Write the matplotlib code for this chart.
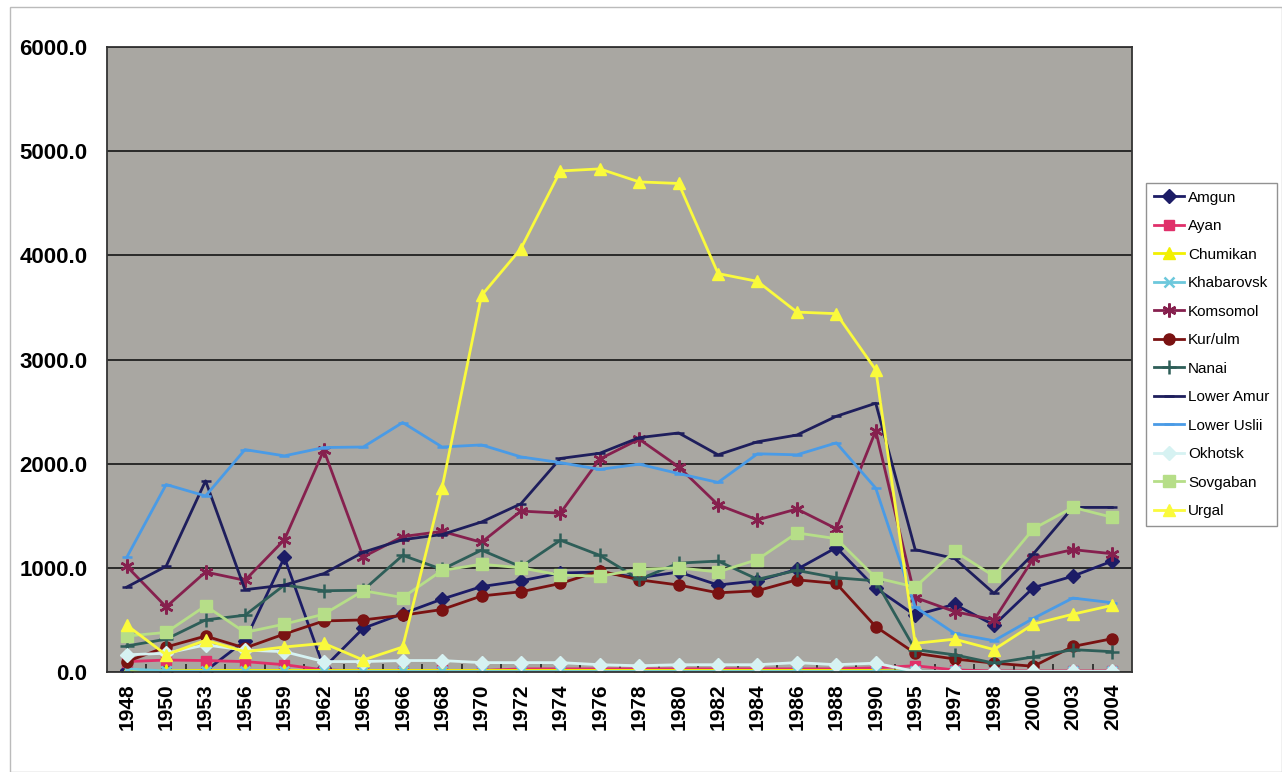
import matplotlib
matplotlib.use('Agg')
import matplotlib.pyplot as plt
from matplotlib.patches import Rectangle

plt.rcParams['font.family'] = ['Liberation Sans', 'DejaVu Sans']

# categories (years)
years = ['1948', '1950', '1953', '1956', '1959', '1962', '1965', '1966', '1968', '1970',
         '1972', '1974', '1976', '1978', '1980', '1982', '1984', '1986', '1988', '1990',
         '1995', '1997', '1998', '2000', '2003', '2004']

# series values
amgun = [20, 10, 10, 300, 1100, 40, 420, 560, 700, 820, 875, 950, 960, 905, 960, 835,
         875, 985, 1195, 805, 545, 650, 450, 810, 920, 1065]
ayan = [100, 115, 110, 100, 70, 20, 10, 10, 15, 15, 30, 30, 30, 30, 30, 30,
        30, 30, 30, 40, 60, 20, 10, 10, 10, 10]
chumikan = [10, 15, 15, 15, 15, 15, 15, 15, 15, 15, 15, 15, 15, 15, 15, 15,
            15, 15, 15, 15, 5, 5, 5, 5, 5, 5]
khabarovsk = [30, 10, 5, 5, 5, 5, 5, 5, 5, 5, 5, 5, 5, 5, 5, 5,
              5, 5, 5, 5, 5, 5, 5, 5, 5, 5]
komsomol = [1015, 625, 960, 880, 1270, 2130, 1105, 1300, 1350, 1245, 1545, 1525, 2045, 2235, 1970, 1605,
            1460, 1565, 1375, 2315, 715, 580, 500, 1090, 1175, 1135]
kurulm = [100, 240, 345, 230, 365, 490, 500, 545, 600, 730, 770, 850, 970, 885, 835, 760,
          780, 885, 850, 435, 180, 125, 85, 55, 245, 320]
nanai = [250, 315, 500, 545, 835, 780, 785, 1120, 985, 1170, 1010, 1265, 1120, 890, 1045, 1065,
         890, 975, 905, 875, 215, 165, 85, 145, 215, 195]
lower_amur = [815, 1015, 1835, 790, 835, 945, 1150, 1270, 1320, 1440, 1615, 2050, 2100, 2250, 2295, 2085,
              2210, 2275, 2455, 2580, 1175, 1090, 755, 1135, 1580, 1580]
lower_uslii = [1100, 1800, 1690, 2135, 2075, 2155, 2160, 2395, 2160, 2180, 2065, 2010, 1945, 1995, 1905, 1820,
               2095, 2085, 2200, 1765, 625, 370, 300, 515, 710, 665]
okhotsk = [165, 180, 260, 210, 195, 100, 100, 110, 110, 90, 90, 90, 70, 60, 70, 70,
           70, 90, 70, 85, 5, 5, 5, 5, 5, 5]
sovgaban = [345, 380, 635, 380, 460, 555, 780, 715, 975, 1035, 1000, 930, 920, 985, 1000, 960,
            1080, 1335, 1280, 905, 815, 1160, 920, 1375, 1580, 1485]
urgal = [450, 165, 305, 195, 240, 275, 115, 240, 1770, 3615, 4065, 4810, 4830, 4705, 4690, 3825,
         3750, 3455, 3440, 2900, 275, 315, 215, 460, 555, 640]

names = ['Amgun', 'Ayan', 'Chumikan', 'Khabarovsk', 'Komsomol', 'Kur/ulm', 'Nanai',
         'Lower Amur', 'Lower Uslii', 'Okhotsk', 'Sovgaban', 'Urgal']
data = [amgun, ayan, chumikan, khabarovsk, komsomol, kurulm, nanai,
        lower_amur, lower_uslii, okhotsk, sovgaban, urgal]
colors = ['#1c1c66', '#e0306a', '#f2f000', '#6cc8dc', '#86204e', '#7a1212', '#2e5e58',
          '#1e1e5c', '#4a9be6', '#d6f2f2', '#b6de88', '#fafa3c']
markers = ['D', 's', '^', 'x', (6, 2, 0), 'o', '+', '_', '_', 'D', 's', '^']
msizes = [7, 7, 8, 7, 10, 8, 10, 7, 7, 7, 8, 8]

fig = plt.figure(figsize=(12.82, 7.72), dpi=100)
ax = fig.add_axes([107 / 1282, 1 - 672 / 772, (1132 - 107) / 1282, (672 - 47) / 772])
ax.set_facecolor('#a9a7a2')

x = list(range(len(years)))
for vals, name, c, m, ms in zip(data, names, colors, markers, msizes):
    ax.plot(x, vals, color=c, marker=m, markersize=ms, linewidth=2, label=name,
            markeredgewidth=1.8 if m in ('x', '+', '_', (6, 2, 0)) else 1,
            markeredgecolor=c, markerfacecolor=c)

ax.set_xlim(-0.5, len(years) - 0.5)
ax.set_ylim(0, 6000)
ax.set_yticks([0, 1000, 2000, 3000, 4000, 5000, 6000])
ax.set_yticklabels(['%.1f' % v for v in [0, 1000, 2000, 3000, 4000, 5000, 6000]],
                   fontsize=16, fontweight='bold')
ax.set_xticks(x)
ax.set_xticklabels(years, rotation=90, fontsize=15, fontweight='bold')
ax.set_xticks([i + 0.5 for i in x[:-1]], minor=True)
ax.tick_params(axis='x', which='major', length=0, pad=8)
ax.tick_params(axis='x', which='minor', direction='in', length=6, width=1.2, color='#222222')
ax.tick_params(axis='y', length=0, pad=14)
ax.yaxis.grid(True, color='#202020', linewidth=1.3)
ax.set_axisbelow(True)
for s in ax.spines.values():
    s.set_color('#333333')
    s.set_linewidth(1.3)

leg = fig.legend(loc='upper left', bbox_to_anchor=(1146 / 1282, 1 - 183 / 772),
                 fontsize=11, frameon=True, fancybox=False, edgecolor='#777777',
                 handlelength=2.0, labelspacing=0.95, borderpad=0.5, handletextpad=0.25,
                 borderaxespad=0)
leg.get_frame().set_linewidth(1)

fig.patches.append(Rectangle((10 / 1282, 0), 1 - 10 / 1282, 1 - 7 / 772,
                             transform=fig.transFigure, fill=False,
                             edgecolor='#bbbbbb', linewidth=1))

fig.savefig('out.png', dpi=100)
